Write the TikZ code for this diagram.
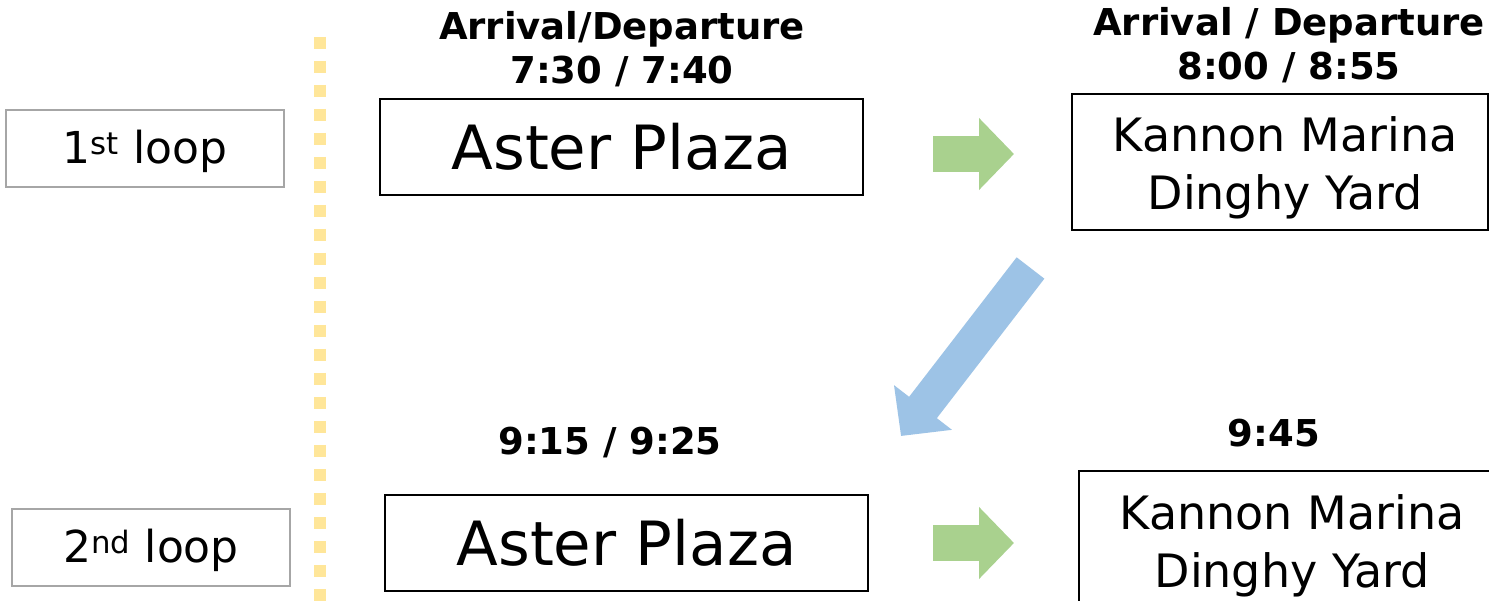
\documentclass[tikz,border=0pt]{standalone}
\usepackage{fontspec}
\setmainfont{DejaVu Sans}
\usetikzlibrary{arrows.meta}
\definecolor{dotyellow}{HTML}{FFE699}
\definecolor{arrgreen}{HTML}{A9D18E}
\definecolor{arrblue}{HTML}{9DC3E6}
\definecolor{loopgray}{HTML}{A6A6A6}
\tikzset{
  loopbox/.style={draw=loopgray, line width=2pt, minimum width=278pt, minimum height=77pt, inner sep=0pt, text height=39pt, text depth=8pt, font=\fontsize{44}{50}\selectfont},
  stopbox/.style={draw=black, line width=2pt, minimum width=483pt, minimum height=96pt, inner sep=0pt, font=\fontsize{61}{70}\selectfont},
  marinabox/.style={draw=black, line width=2pt, minimum width=416pt, minimum height=136pt, inner sep=0pt},
  marinatext/.style={align=center, inner sep=0pt, font=\fontsize{46}{58}\selectfont},
  timelabel/.style={align=center, inner sep=0pt, font=\bfseries\fontsize{37}{44}\selectfont},
  greenarrow/.style={arrgreen, line width=36pt, -{Triangle[length=35pt, width=70pt]}},
  bluearrow/.style={arrblue, line width=35pt, -{Triangle[length=36pt, width=71pt]}},
  dotline/.style={dotyellow, line width=12pt, dash pattern=on 12pt off 12pt}
}
\begin{document}
\begin{tikzpicture}[x=1pt, y=-1pt]
\clip (0,0) rectangle (1489,601);
\fill[white] (0,0) rectangle (1489,601);
% dotted separator
\coordinate (dtop) at (320,37);
\coordinate (dbot) at (320,610);
\draw[dotline] (dtop) -- (dbot);
% loop labels
\node[loopbox] (loop1) at (145,148.5) {1\textsuperscript{st} loop};
\node[loopbox] (loop2) at (151,547) {2\textsuperscript{nd} loop};
% first loop
\node[timelabel] (h1) at (622,49) {Arrival/Departure\\7:30 / 7:40};
\node[stopbox] (aster1) at (621.5,147) {Aster Plaza};
\node[timelabel] (h2) at (1289,45) {Arrival / Departure\\8:00 / 8:55};
\node[marinabox] (marina1) at (1279.5,162) {};
\node[marinatext] (marina1t) at (1285,168) {Kannon Marina\\Dinghy Yard};
% second loop
\node[timelabel] (h3) at (610,442) {9:15 / 9:25};
\node[stopbox] (aster2) at (626.5,542.5) {Aster Plaza};
\node[timelabel] (h4) at (1274,433) {9:45};
\node[marinabox, minimum width=440pt, anchor=north west] (marina2) at (1078,470) {};
\node[marinatext] (marina2t) at (1292,546) {Kannon Marina\\Dinghy Yard};
% arrows
\coordinate (g1s) at (933,154);
\coordinate (g1e) at (1014,154);
\draw[greenarrow] (g1s) -- (g1e);
\coordinate (g2s) at (933,543);
\coordinate (g2e) at (1014,543);
\draw[greenarrow] (g2s) -- (g2e);
\coordinate (bs) at (1030.5,268);
\coordinate (be) at (901,436);
\draw[bluearrow] (bs) -- (be);
\end{tikzpicture}
\end{document}
